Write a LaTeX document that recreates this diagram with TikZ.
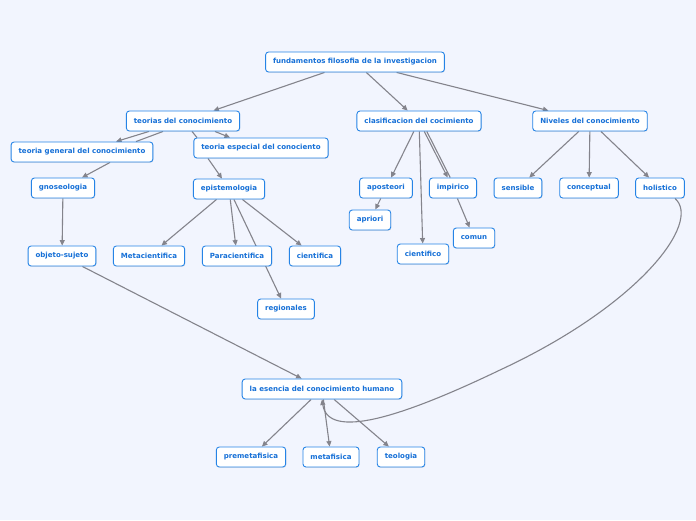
\documentclass[tikz,border=0pt]{standalone}
\usepackage{fontspec}
\setsansfont{DejaVu Sans}
\usepackage{xcolor}
\usepackage{tikz}
\usetikzlibrary{arrows.meta,calc,shadows,backgrounds}
\definecolor{mapbg}{RGB}{242,245,254}
\definecolor{mapblue}{RGB}{38,132,230}
\definecolor{maptext}{RGB}{22,112,215}
\definecolor{mapline}{RGB}{132,132,140}
\begin{document}
\begin{tikzpicture}[x=1pt,y=-1pt,>={Triangle[length=5.5pt,width=5pt]},
  topic/.style={draw=mapblue,line width=0.9pt,fill=white,rounded corners=3pt,
    minimum height=20pt,inner xsep=7.5pt,inner ysep=2pt,text=maptext,
    font=\sffamily\bfseries\fontsize{7.05}{8}\selectfont,
    drop shadow={opacity=0.18,shadow xshift=0.6pt,shadow yshift=-0.8pt}},
  link/.style={draw=mapline,line width=1.1pt}]
\useasboundingbox (0,0) rectangle (696,520);
\node[topic] (fund) at (355,62) {fundamentos filosofia de la investigacion};
\node[topic] (teo) at (183,121) {teorias del conocimiento};
\node[topic] (clas) at (419,121) {clasificacion del cocimiento};
\node[topic] (niv) at (590,121) {Niveles del conocimiento};
\node[topic] (gen) at (82,152) {teoria general del conocimiento};
\node[topic] (esp) at (261,148) {teoria especial del conociento};
\node[topic] (gnos) at (63,188) {gnoseologia};
\node[topic] (epi) at (229,189) {epistemologia};
\node[topic] (obj) at (62,256) {objeto-sujeto};
\node[topic] (meta) at (149,256) {Metacientifica};
\node[topic] (para) at (237,256) {Paracientifica};
\node[topic] (cien) at (315,256) {cientifica};
\node[topic] (reg) at (286,309) {regionales};
\node[topic] (apost) at (386,188) {aposteori};
\node[topic] (impi) at (453,188) {impirico};
\node[topic] (apri) at (370,220) {apriori};
\node[topic] (cico) at (423,254) {cientifico};
\node[topic] (com) at (474,238) {comun};
\node[topic] (sens) at (518,188) {sensible};
\node[topic] (conc) at (589,188) {conceptual};
\node[topic] (hol) at (660,188) {holistico};
\node[topic] (esen) at (322,389) {la esencia del conocimiento humano};
\node[topic] (prem) at (251,457) {premetafisica};
\node[topic] (metf) at (331,457) {metafisica};
\node[topic] (teol) at (401,457) {teologia};
\begin{scope}[on background layer]
\fill[mapbg] (0,0) rectangle (696,520);
\draw[link,->] (fund) -- (teo);
\draw[link,->] (fund) -- (clas);
\draw[link,->] (fund) -- (niv);
\draw[link,->] (teo) -- (gen);
\draw[link] ($(teo.south)+(-20,0)$) -- ($(gen.north)+(54,0)$);
\draw[link,->] ($(teo.south)+(32,0)$) -- ($(esp.north)+(-31,0)$);
\draw[link] ($(teo.south)+(9,0)$) -- ($(esp.north)+(-64,0)$);
\draw[link,->] ($(gen.south)+(28,0)$) -- ($(gnos.north)+(19,0)$);
\draw[link,->] ($(esp.south)+(-53,0)$) -- ($(epi.north)+(-7,0)$);
\draw[link,->] (gnos) -- (obj);
\draw[link,->] (epi) -- (meta);
\draw[link,->] (epi) -- (para);
\draw[link,->] (epi) -- (cien);
\draw[link,->] (epi) -- (reg);
\draw[link,->] (obj) -- (esen);
\draw[link,->] (clas) -- (apost);
\draw[link,->] (clas) -- (cico);
\draw[link,->] (clas) -- (impi);
\draw[link,transform canvas={xshift=2.5pt}] (clas) -- (impi);
\draw[link,->] (apost) -- (apri);
\draw[link,->] (impi) -- (com);
\draw[link,->] (niv) -- (sens);
\draw[link,->] (niv) -- (conc);
\draw[link,->] (niv) -- (hol);
\draw[link,->] (esen) -- (prem);
\draw[link,->] (esen) -- (metf);
\draw[link,->] (esen) -- (teol);
\draw[link,->] ($(hol.south)+(15,0)$) .. controls (702,222) and (640,305) .. (500,370)
  .. controls (400,418) and (328,440) .. (esen.south);
\end{scope}
\end{tikzpicture}
\end{document}
